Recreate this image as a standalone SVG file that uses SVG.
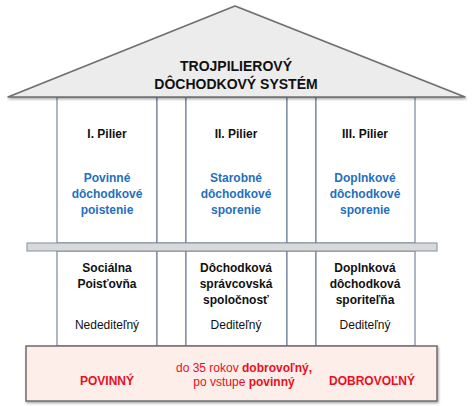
<svg xmlns="http://www.w3.org/2000/svg" width="474" height="406" viewBox="0 0 474 406">
<defs>
<filter id="sh" x="-5%" y="-5%" width="110%" height="120%">
<feDropShadow dx="1" dy="1.5" stdDeviation="1" flood-color="#000" flood-opacity="0.35"/>
</filter>
</defs>
<style>
text{font-family:"Liberation Sans",Arial,sans-serif;text-anchor:middle}
.col{fill:#fff;stroke:#5b6f8c;stroke-width:1}
.h{font-size:12px;font-weight:bold;fill:#111}
.b{font-size:12px;font-weight:bold;fill:#1f6fbf}
.n{font-size:12px;fill:#111}
.r{font-size:12px;fill:#e8101e}
.rb{font-weight:bold}
.t{font-size:14px;font-weight:bold;fill:#111}
</style>
<rect width="474" height="406" fill="#fff"/>
<g id="columns">
<rect class="col" x="57" y="97" width="100" height="146"/>
<rect class="col" x="157" y="97" width="29" height="146"/>
<rect class="col" x="186" y="97" width="101" height="146"/>
<rect class="col" x="287" y="97" width="29" height="146"/>
<rect class="col" x="316" y="97" width="99" height="146"/>
<rect class="col" x="57" y="251" width="100" height="95"/>
<rect class="col" x="157" y="251" width="29" height="95"/>
<rect class="col" x="186" y="251" width="101" height="95"/>
<rect class="col" x="287" y="251" width="29" height="95"/>
<rect class="col" x="316" y="251" width="99" height="95"/>
</g>
<g id="roof">
<polygon points="235,6 465,97 8,97" fill="#ececec" stroke="#6e6e6e" stroke-width="1.5" stroke-linejoin="round" filter="url(#sh)"/>
<text class="t" x="236" y="71">TROJPILIEROVÝ</text>
<text class="t" x="236" y="89">DÔCHODKOVÝ SYSTÉM</text>
</g>
<g id="beam">
<rect x="27" y="243" width="410" height="8" fill="#d9d9d9" stroke="#8090a4" stroke-width="1"/>
</g>
<g id="pillar1">
<text class="h" x="107" y="138">I. Pilier</text>
<text class="b" x="107" y="182">Povinné</text>
<text class="b" x="107" y="198">dôchodkové</text>
<text class="b" x="107" y="214">poistenie</text>
<text class="h" x="107" y="272">Sociálna</text>
<text class="h" x="107" y="288">Poisťovňa</text>
<text class="n" x="107" y="329">Nedediteľný</text>
</g>
<g id="pillar2">
<text class="h" x="236" y="138">II. Pilier</text>
<text class="b" x="236" y="182">Starobné</text>
<text class="b" x="236" y="198">dôchodkové</text>
<text class="b" x="236" y="214">sporenie</text>
<text class="h" x="236" y="272">Dôchodková</text>
<text class="h" x="236" y="288">správcovská</text>
<text class="h" x="236" y="304">spoločnosť</text>
<text class="n" x="236" y="329">Dediteľný</text>
</g>
<g id="pillar3">
<text class="h" x="365" y="138">III. Pilier</text>
<text class="b" x="365" y="182">Doplnkové</text>
<text class="b" x="365" y="198">dôchodkové</text>
<text class="b" x="365" y="214">sporenie</text>
<text class="h" x="365" y="272">Doplnková</text>
<text class="h" x="365" y="288">dôchodková</text>
<text class="h" x="365" y="304">sporiteľňa</text>
<text class="n" x="365" y="329">Dediteľný</text>
</g>
<g id="base">
<rect x="26" y="346" width="411" height="55" fill="#fdeee9" stroke="#6e6e6e" stroke-width="1.5" filter="url(#sh)"/>
<text class="r rb" x="107" y="385">POVINNÝ</text>
<text class="r" x="244" y="372">do 35 rokov <tspan class="rb">dobrovoľný,</tspan></text>
<text class="r" x="244" y="386">po vstupe <tspan class="rb">povinný</tspan></text>
<text class="r rb" x="372" y="385">DOBROVOĽNÝ</text>
</g>
</svg>
